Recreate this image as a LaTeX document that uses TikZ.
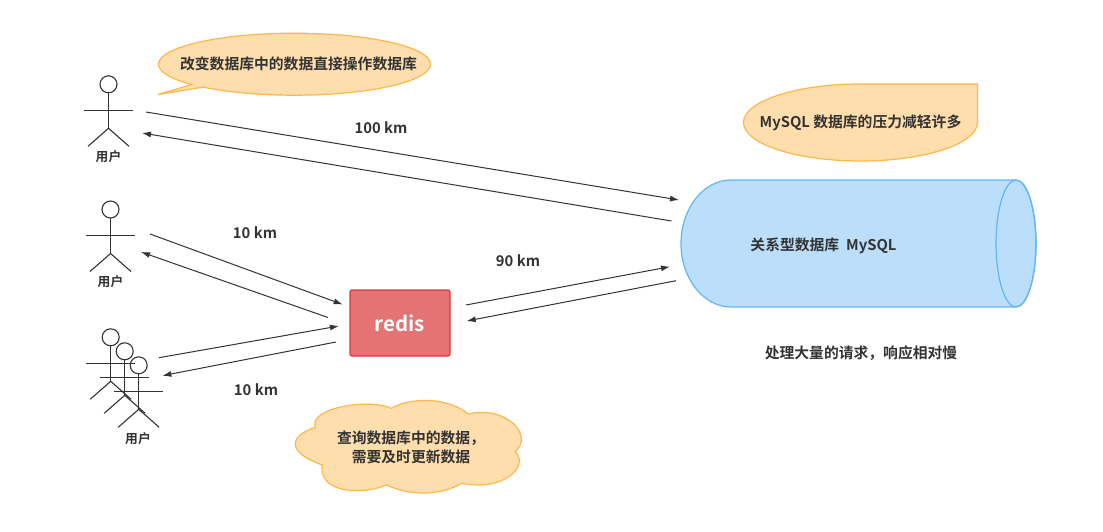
\documentclass[tikz,border=0pt]{standalone}
\usepackage{fontspec}
\setmainfont{Noto Sans CJK SC Bold}
\usetikzlibrary{arrows.meta}
\definecolor{ink}{HTML}{333333}
\definecolor{noteorange}{HTML}{FFDEAD}
\definecolor{noteline}{HTML}{FFB74D}
\definecolor{dbblue}{HTML}{BBDEFB}
\definecolor{dbline}{HTML}{64B5F6}
\definecolor{cachered}{HTML}{E57373}
\definecolor{cacheline}{HTML}{D93A3C}
\tikzset{
  txt/.style={text=ink, inner sep=0pt, font=\fontsize{14.8}{19}\selectfont},
  usertxt/.style={text=ink, inner sep=0pt, font=\fontsize{12.8}{15}\selectfont},
  note/.style={draw=noteline, fill=noteorange, line width=1.2pt},
  flow/.style={draw=ink, line width=1pt, -{Latex[length=9pt,width=6pt]}},
  stick/.style={draw=ink, line width=1.1pt}
}
% one figure, head centre at #1
\newcommand{\stickman}[1]{
  \begin{scope}[shift={#1}]
    \draw[stick] (0, 0) circle (8.5);
    \draw[stick] (0, 8.5) -- (0, 44);
    \draw[stick] (-24.5, 26.2) -- (24.5, 26.2);
    \draw[stick] (-20.5, 62) -- (0, 44) -- (20.5, 62);
  \end{scope}
}

\begin{document}
\begin{tikzpicture}[x=1pt, y=-1pt]
  \useasboundingbox (0, 0) rectangle (1103, 532);

  % users
  \stickman{(108.5, 84.3)}
  \stickman{(110.5, 209.5)}
  \foreach \i in {0, 1, 2} {
    \stickman{(110.7 + 14 * \i, 337.3 + 14 * \i)}
  }
  \node[usertxt] (userA) at (108.5, 157) {用户};
  \node[usertxt] (userB) at (110.5, 281.5) {用户};
  \node[usertxt] (userC) at (138, 438.5) {用户};

  % notes
  \draw[note] (158, 94.5) -- (191.7, 84.5)
    arc (220.9:-132.3:136pt and 31pt) -- cycle;
  \node[txt] (noteA) at (298.5, 63.5) {改变数据库中的数据直接操作数据库};

  \draw[note] (977.5, 84) -- (860.5, 84)
    arc (90:360:117pt and 38.5pt) -- cycle;
  \node[txt] (noteB) at (860.5, 122.5) {MySQL 数据库的压力减轻许多};

  \draw[note] (315.3, 427.5)
    .. controls (308, 408) and (368, 398) .. (391.7, 408.3)
    .. controls (410, 397) and (448, 397) .. (468.3, 414)
    .. controls (505, 405) and (535, 435) .. (515, 451.7)
    .. controls (530, 465) and (505, 492) .. (461.7, 483.3)
    .. controls (440, 496) and (410, 496) .. (386.7, 485)
    .. controls (355, 497) and (318, 490) .. (322.3, 465)
    .. controls (285, 452) and (290, 435) .. (315.3, 427.5) -- cycle;
  \node[txt, align=center] (noteC) at (411, 447) {查询数据库中的数据，\\需要及时更新数据};

  % database
  \draw[draw=dbline, fill=dbblue, line width=1.2pt] (1016, 180) -- (731, 180)
    arc (90:270:50pt and 63.5pt) -- (1016, 307)
    arc (-90:90:20pt and 63.5pt) -- cycle;
  \draw[draw=dbline, line width=1.2pt] (1016, 243.5) ellipse (20pt and 63.5pt);
  \node[txt] (mysql) at (823.5, 245.5) {关系型数据库\hspace{7pt}MySQL};
  \node[txt] (slow) at (861, 353.5) {处理大量的请求，响应相对慢};

  % cache
  \node[draw=cacheline, fill=cachered, line width=1.2pt, rounded corners=2pt,
    minimum width=100pt, minimum height=66pt, inner sep=0pt, text=white,
    font=\fontsize{20.5}{22}\selectfont] (redis) at (400, 323) {\raisebox{-3pt}{redis}};

  % connector ends
  \coordinate (a1) at (146, 112);
  \coordinate (a2) at (679, 200);
  \coordinate (b1) at (671.5, 221);
  \coordinate (b2) at (142, 133);
  \coordinate (c1) at (150, 234);
  \coordinate (c2) at (342.7, 304.5);
  \coordinate (d1) at (328, 317.5);
  \coordinate (d2) at (141, 252);
  \coordinate (e1) at (159, 357.7);
  \coordinate (e2) at (339, 326);
  \coordinate (f1) at (336, 342);
  \coordinate (f2) at (162.3, 375.7);
  \coordinate (g1) at (466, 305);
  \coordinate (g2) at (670, 266.7);
  \coordinate (h1) at (676, 280.7);
  \coordinate (h2) at (466.7, 321);
  \foreach \s/\t in {a1/a2, b1/b2, c1/c2, d1/d2, e1/e2, f1/f2, g1/g2, h1/h2} {
    \draw[flow] (\s) -- (\t);
  }

  % distances
  \node[txt] (kmA) at (381, 128) {100 km};
  \node[txt] (kmB) at (255, 233) {10 km};
  \node[txt] (kmC) at (518, 261) {90 km};
  \node[txt] (kmD) at (256, 390) {10 km};
\end{tikzpicture}
\end{document}
